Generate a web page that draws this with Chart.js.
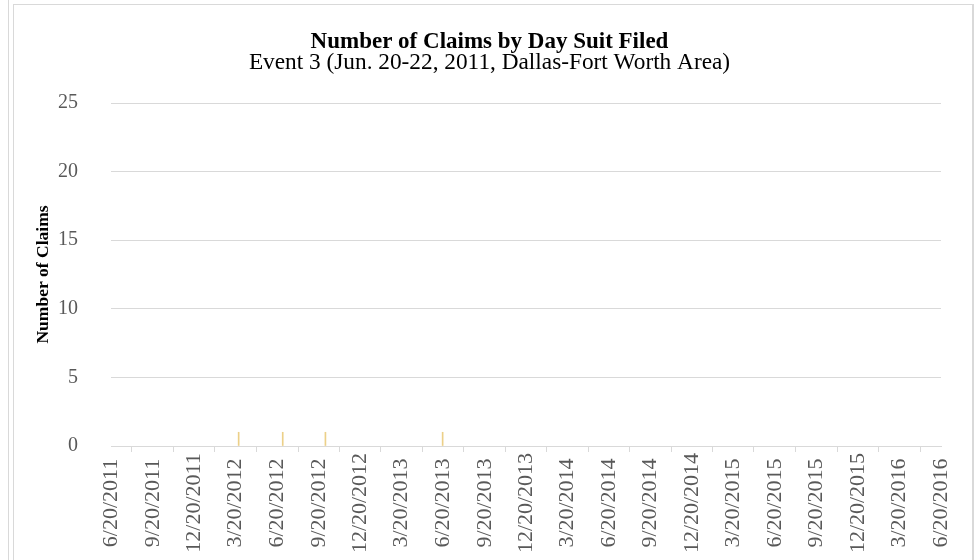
<!DOCTYPE html>
<html>
<head>
<meta charset="utf-8">
<script src="https://cdn.jsdelivr.net/npm/chart.js@4.4.0/dist/chart.umd.min.js"></script>
<style>
  body { margin: 0; background: #fff; }
  #wrap { position: relative; width: 979px; height: 560px; overflow: hidden; }
  #chart { position: absolute; left: 0; top: 0; }
  .line { position: absolute; background: #d9d9d9; }
</style>
</head>
<body>
<div id="wrap">
  <canvas id="chart" width="979" height="560"></canvas>
  <div class="line" style="left:8px;top:0;width:1px;height:560px"></div>
  <div class="line" style="left:13px;top:4px;width:1px;height:560px"></div>
  <div class="line" style="left:13px;top:4px;width:960px;height:1px"></div>
  <div class="line" style="left:972px;top:4px;width:2px;height:560px"></div>
</div>
<script>
// data
const claimDates = ["3/27/2012", "7/2/2012", "10/4/2012", "6/19/2013"];
const claimCounts = [1, 1, 1, 1];
const tickLabels = [
  "6/20/2011", "9/20/2011", "12/20/2011", "3/20/2012", "6/20/2012",
  "9/20/2012", "12/20/2012", "3/20/2013", "6/20/2013", "9/20/2013",
  "12/20/2013", "3/20/2014", "6/20/2014", "9/20/2014", "12/20/2014",
  "3/20/2015", "6/20/2015", "9/20/2015", "12/20/2015", "3/20/2016", "6/20/2016"
];
const yTicks = [0, 5, 10, 15, 20, 25];

// days since first tick
function dayNum(s) {
  const p = s.split("/").map(Number);
  return Date.UTC(p[2], p[0] - 1, p[1]) / 86400000;
}
const start = dayNum(tickLabels[0]);
const dayOf = s => dayNum(s) - start;

const serif = "'Liberation Serif', 'Times New Roman', serif";

// date labels, turned 270 deg and centred under their tick like Excel does
const xLabels = {
  id: "xLabels",
  afterDraw(chart) {
    const s = chart.scales.x;
    const ctx = chart.ctx;
    ctx.save();
    ctx.fillStyle = "#595959";
    ctx.font = "22px " + serif;
    ctx.textAlign = "center";
    ctx.textBaseline = "middle";
    s.ticks.forEach((t, i) => {
      ctx.save();
      ctx.translate(s.getPixelForValue(t.value), 503);
      ctx.rotate(-Math.PI / 2);
      ctx.fillText(tickLabels[i], 0, 0);
      ctx.restore();
    });
    ctx.restore();
  }
};

new Chart(document.getElementById("chart"), {
  type: "bar",
  data: {
    datasets: [{
      data: claimDates.map((d, i) => ({ x: dayOf(d), y: claimCounts[i] })),
      backgroundColor: "#ecd088",
      barThickness: 1
    }]
  },
  plugins: [xLabels],
  options: {
    responsive: false,
    animation: false,
    layout: { padding: { left: 14, right: 14, top: 0, bottom: 0 } },
    plugins: {
      legend: { display: false },
      tooltip: { enabled: false },
      title: {
        display: true,
        text: "Number of Claims by Day Suit Filed",
        color: "#000",
        font: { family: serif, size: 23, weight: "bold", lineHeight: 21 / 23 },
        padding: { top: 32, bottom: 0 }
      },
      subtitle: {
        display: true,
        text: "Event 3 (Jun. 20-22, 2011, Dallas-Fort Worth Area)",
        color: "#000",
        font: { family: serif, size: 23.3, lineHeight: 20 / 23.3 },
        padding: { top: 0, bottom: 30 }
      }
    },
    scales: {
      x: {
        type: "linear",
        offset: false,
        min: 0,
        max: dayOf(tickLabels[tickLabels.length - 1]),
        afterBuildTicks: s => { s.ticks = tickLabels.map(t => ({ value: dayOf(t) })); },
        afterFit: s => { s.height = 114; },
        grid: { drawOnChartArea: false, drawTicks: true, tickLength: 6, color: "#d9d9d9" },
        border: { display: true, color: "#d9d9d9" },
        ticks: { display: false }
      },
      y: {
        min: 0,
        max: 25,
        afterBuildTicks: s => { s.ticks = yTicks.map(v => ({ value: v })); },
        afterFit: s => { s.width = 97; },
        grid: { color: "#d9d9d9", drawTicks: false, tickLength: 0 },
        border: { display: false },
        ticks: {
          padding: 33,
          color: "#595959",
          font: { family: serif, size: 20 }
        },
        title: {
          display: true,
          text: "Number of Claims",
          color: "#000",
          font: { family: serif, size: 17.5, weight: "bold", lineHeight: 1.2 },
          padding: { top: 19, bottom: 0 }
        }
      },
      // empty right-hand axis so the plot ends where the reference does
      yRight: {
        position: "right",
        min: 0,
        max: 25,
        afterFit: s => { s.width = 24; },
        grid: { display: false },
        border: { display: false },
        ticks: { display: false }
      }
    }
  }
});
</script>
</body>
</html>
